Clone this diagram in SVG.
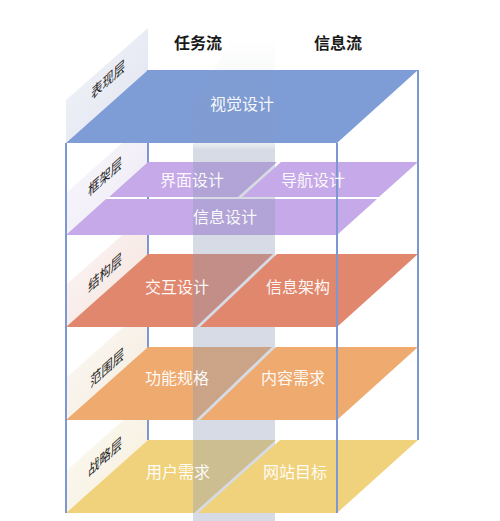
<svg xmlns="http://www.w3.org/2000/svg" width="500" height="521" viewBox="0 0 500 521">
<style>
.edge{stroke:#7d97d3;stroke-width:2;fill:none}
.t{font-family:"Noto Sans CJK SC","Noto Sans",sans-serif;font-size:16px;fill:#ffffff;fill-opacity:0.95;text-anchor:middle}
.h{font-family:"Noto Sans CJK SC","Noto Sans",sans-serif;font-size:16px;font-weight:bold;fill:#1a1a1a;text-anchor:middle}
.lb{font-family:"Noto Sans CJK SC","Noto Sans",sans-serif;font-size:15px;fill:#222222;text-anchor:middle}
</style>
<defs>
<linearGradient id="gp0" x1="1" y1="1" x2="0" y2="0"><stop offset="0" stop-color="#dfe3ef"/><stop offset="1" stop-color="#f4f5fa"/></linearGradient>
<linearGradient id="gp1" x1="1" y1="1" x2="0" y2="0"><stop offset="0" stop-color="#ece8f4"/><stop offset="1" stop-color="#fbfafd"/></linearGradient>
<linearGradient id="gp2" x1="1" y1="1" x2="0" y2="0"><stop offset="0" stop-color="#f5e3de"/><stop offset="1" stop-color="#fcf7f6"/></linearGradient>
<linearGradient id="gp3" x1="1" y1="1" x2="0" y2="0"><stop offset="0" stop-color="#f4ebde"/><stop offset="1" stop-color="#fcfaf6"/></linearGradient>
<linearGradient id="gp4" x1="1" y1="1" x2="0" y2="0"><stop offset="0" stop-color="#f5eedb"/><stop offset="1" stop-color="#fdfbf5"/></linearGradient>
<linearGradient id="band" gradientUnits="userSpaceOnUse" x1="0" y1="38" x2="0" y2="521">
<stop offset="0" stop-color="#8d9ab5" stop-opacity="0"/>
<stop offset="0.217" stop-color="#8d9ab5" stop-opacity="0.16"/>
<stop offset="0.232" stop-color="#8d9ab5" stop-opacity="0.36"/>
<stop offset="1" stop-color="#8d9ab5" stop-opacity="0.36"/>
</linearGradient>
</defs>
<rect width="500" height="521" fill="#ffffff"/>

<g id="side-panels">
<polygon points="66,143 148,70 148,28 66,100" fill="url(#gp0)"/>
<polygon points="66,235 148,162 148,120 66,193" fill="url(#gp1)"/>
<polygon points="66,327 148,254 148,212 66,285" fill="url(#gp2)"/>
<polygon points="66,420 148,347 148,305 66,378" fill="url(#gp3)"/>
<polygon points="66,513 148,440 148,398 66,471" fill="url(#gp4)"/>
</g>

<g id="frame-back">
<line class="edge" x1="148" y1="70" x2="148" y2="440"/>
<line class="edge" x1="418" y1="70" x2="418" y2="440"/>
</g>

<g id="planes-task">
<polygon id="presentation-plane" points="66,143 337,143 418,70 148,70" fill="#7e9cd6"/>
<polygon id="interface-plane" points="148,162 277,162 238,197 109,197" fill="#c6a9e8"/>
<polygon id="information-plane" points="106,199 377,199 337,235 66,235" fill="#c6a9e8"/>
<polygon id="interaction-plane" points="148,254 273,254 196,327 66,327" fill="#e0876d"/>
<polygon id="function-plane" points="148,347 272,347 196,420 66,420" fill="#eeaa6f"/>
<polygon id="user-plane" points="148,440 276,440 194,513 66,513" fill="#f1d27c"/>
</g>

<g id="flow-band">
<polygon points="193,521 193,105 232,40 275,40 275,521" fill="url(#band)"/>
</g>

<g id="planes-info">
<polygon id="navigation-plane" points="281,162 418,162 379,197 242,197" fill="#c6a9e8"/>
<polygon id="architecture-plane" points="277,254 418,254 337,327 200,327" fill="#e0876d"/>
<polygon id="content-plane" points="276,347 418,347 337,420 200,420" fill="#eeaa6f"/>
<polygon id="goal-plane" points="280,440 418,440 337,513 198,513" fill="#f1d27c"/>
</g>

<g id="frame-front">
<line class="edge" x1="66" y1="143" x2="66" y2="513"/>
<line class="edge" x1="337" y1="143" x2="337" y2="513"/>
</g>

<g id="headers">
<text class="h" x="198" y="49">任务流</text>
<text class="h" x="338" y="49">信息流</text>
</g>

<g id="layer-labels">
<g id="label-presentation"><text class="lb" transform="matrix(0.75,-0.667,0,1,108,80)" x="0" y="5">表现层</text></g>
<g id="label-skeleton"><text class="lb" transform="matrix(0.75,-0.667,0,1,105,177)" x="0" y="5">框架层</text></g>
<g id="label-structure"><text class="lb" transform="matrix(0.75,-0.667,0,1,105,273)" x="0" y="5">结构层</text></g>
<g id="label-scope"><text class="lb" transform="matrix(0.75,-0.667,0,1,107,368)" x="0" y="5">范围层</text></g>
<g id="label-strategy"><text class="lb" transform="matrix(0.75,-0.667,0,1,105,457)" x="0" y="5">战略层</text></g>
</g>

<g id="node-visual"><text class="t" x="242" y="110">视觉设计</text></g>
<g id="node-interface"><text class="t" x="192" y="186">界面设计</text></g>
<g id="node-navigation"><text class="t" x="313" y="186">导航设计</text></g>
<g id="node-information"><text class="t" x="225" y="223">信息设计</text></g>
<g id="node-interaction"><text class="t" x="177" y="293">交互设计</text></g>
<g id="node-architecture"><text class="t" x="298" y="293">信息架构</text></g>
<g id="node-function"><text class="t" x="177" y="384">功能规格</text></g>
<g id="node-content"><text class="t" x="293" y="384">内容需求</text></g>
<g id="node-user"><text class="t" x="178" y="478">用户需求</text></g>
<g id="node-goal"><text class="t" x="295" y="478">网站目标</text></g>
</svg>
